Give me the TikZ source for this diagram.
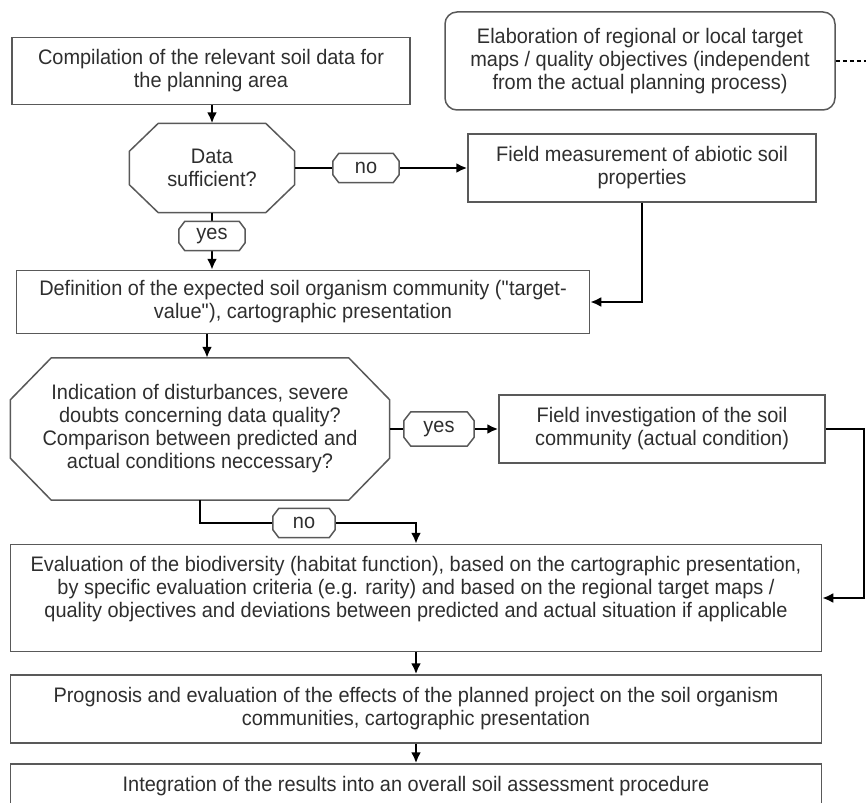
\documentclass[tikz,border=0pt]{standalone}
\usepackage{fontspec}
\setmainfont{Liberation Sans}[FakeStretch=0.95]
\usetikzlibrary{arrows.meta}

% octagon frame round a node: node, horizontal cut, vertical cut
\newcommand{\decisionframe}[3]{%
	\draw[frameline] ([xshift=#2]#1.north west) -- ([xshift=-#2]#1.north east) -- ([yshift=-#3]#1.north east) -- ([yshift=#3]#1.south east) -- ([xshift=-#2]#1.south east) -- ([xshift=#2]#1.south west) -- ([yshift=#3]#1.south west) -- ([yshift=-#3]#1.north west) -- cycle;}

\begin{document}
\begin{tikzpicture}[x=1pt, y=-1pt,
		every node/.style={font=\fontsize{21}{23}\selectfont, text=black!82, align=center},
		frameline/.style={draw=black!65, line width=1.5pt},
		procbox/.style={frameline, inner sep=3pt},
		goalbox/.style={procbox, rounded corners=12pt},
		decision/.style={inner sep=3pt},
		answer/.style={fill=white, minimum width=66pt, minimum height=29pt, inner sep=1pt},
		flow/.style={-{Latex[length=11pt,width=10pt]}, line width=2.5pt, black},
		dashline/.style={line width=2.5pt, black, dash pattern=on 4pt off 3pt}]
	\useasboundingbox (0,0) rectangle (866,802);
	\clip (0,0) rectangle (866,802);

	% upper part
	\node[procbox, minimum width=398pt, minimum height=67pt] (comp) at (211,71) {Compilation of the relevant soil data for\\the planning area};
	\node[goalbox, minimum width=390pt, minimum height=98pt] (elab) at (640,61) {Elaboration of regional or local target\\maps / quality objectives (independent\\from the actual planning process)};
	\node[decision, minimum width=165pt, minimum height=89pt] (data) at (212,168) {Data\\sufficient?};
	\decisionframe{data}{29pt}{28pt}
	\node[procbox, minimum width=348pt, minimum height=68pt] (fieldm) at (642,168) {Field measurement of abiotic soil\\properties};
	\node[procbox, minimum width=573pt, minimum height=63pt] (def) at (303,302) {Definition of the expected soil organism community (\textquotedbl target-\\value\textquotedbl), cartographic presentation};

	% middle part
	\node[decision, minimum width=379pt, minimum height=142pt] (ind) at (200,429) {Indication of disturbances, severe\\doubts concerning data quality?\\Comparison between predicted and\\actual conditions neccessary?};
	\decisionframe{ind}{41pt}{42pt}
	\node[procbox, minimum width=326pt, minimum height=68pt] (fieldi) at (662,429) {Field investigation of the soil\\community (actual condition)};

	% lower part
	\node[procbox, minimum width=811pt, minimum height=107pt, text depth=22pt] (eval) at (416,598) {Evaluation of the biodiversity (habitat function), based on the cartographic presentation,\\by specific evaluation criteria (e.g. rarity) and based on the regional target maps /\\quality objectives and deviations between predicted and actual situation if applicable};
	\node[procbox, minimum width=811pt, minimum height=68pt] (prog) at (416,709) {Prognosis and evaluation of the effects of the planned project on the soil organism\\communities, cartographic presentation};
	\node[procbox, minimum width=811pt, minimum height=44pt] (integ) at (416,786) {Integration of the results into an overall soil assessment procedure};

	% connectors
	\draw[flow] (comp.south -| data.north) -- (data.north);
	\draw[flow] (data.east) -- (fieldm.west);
	\draw[flow] (data.south) -- (data.south |- def.north);
	\draw[flow] (fieldm.south) |- (def.east);
	\draw[flow] ([xshift=7pt]ind.north |- def.south) -- ([xshift=7pt]ind.north);
	\draw[flow] (ind.east) -- (fieldi.west);
	\draw[flow] (fieldi.east) -- ++(38,0) |- (eval.east);
	\draw[flow] (ind.south) -- ++(0,23) -| (eval.north);
	\draw[flow] (eval.south) -- (prog.north);
	\draw[flow] (prog.south) -- (integ.north);
	\draw[dashline] (elab.east) -- ++(40,0);

	% answers on the connectors
	\node[answer] (no1) at (366,168) {no};
	\decisionframe{no1}{6pt}{8pt}
	\node[answer] (yes1) at (212,236) {yes};
	\decisionframe{yes1}{6pt}{8pt}
	\node[answer, minimum width=70pt, minimum height=34pt] (yes2) at (439,429) {yes};
	\decisionframe{yes2}{7pt}{9pt}
	\node[answer, minimum width=62pt] (no2) at (304,523) {no};
	\decisionframe{no2}{6pt}{8pt}
\end{tikzpicture}
\end{document}
